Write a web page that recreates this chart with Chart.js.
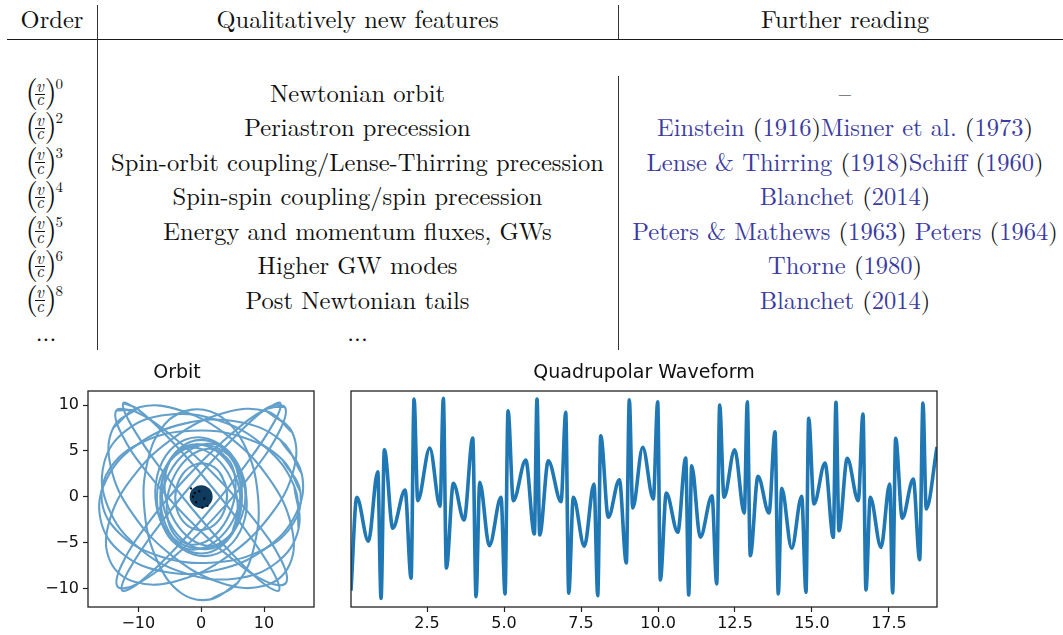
<!DOCTYPE html>
<html><head><meta charset="utf-8">
<script src="https://cdn.jsdelivr.net/npm/chart.js@4.4.1/dist/chart.umd.min.js"></script>
<style>
html,body{margin:0;padding:0;background:#fff;}
#root{position:relative;width:1063px;height:635px;overflow:hidden;color:#111;}
.t{position:absolute;white-space:nowrap;}
.b{color:#3c3ca0;}
.ln{position:absolute;}
canvas{position:absolute;}
</style></head><body><div id="root">
<canvas id="orbit" width="290" height="280" style="left:40px;top:355px;"></canvas>
<canvas id="wave" width="610" height="280" style="left:340px;top:355px;"></canvas>
</div>
<script>
// ---------- table content ----------
const headers = ["Order", "Qualitatively new features", "Further reading"];
const orders = [0, 2, 3, 4, 5, 6, 8];
const features = ["Newtonian orbit", "Periastron precession", "Spin-orbit coupling/Lense-Thirring precession",
  "Spin-spin coupling/spin precession", "Energy and momentum fluxes, GWs", "Higher GW modes", "Post Newtonian tails"];
const readings = ["\u2013", "Einstein (1916)Misner et al. (1973)", "Lense & Thirring (1918)Schiff (1960)",
  "Blanchet (2014)", "Peters & Mathews (1963) Peters (1964)", "Thorne (1980)", "Blanchet (2014)"];

// ---------- waveform (t, h) ----------
const waveform = [
 [0.03,-9.17],[0.218,0.17],[0.594,-4.23],[0.899,2.73],[1.006,-9.93],[1.114,4.93],[1.386,-2.93],[1.786,0.9],
 [1.981,-7.93],[2.078,10.0],[2.198,-0.17],[2.588,5.1],[2.922,-0.73],[3.029,10.07],[3.127,-6.9],[3.354,1.57],
 [3.701,-2.1],[3.984,6.1],[4.091,-9.77],[4.211,1.67],[4.523,-4.67],[4.903,0.17],[5.032,-9.5],[5.13,8.83],
 [5.302,-0.17],[5.705,3.9],[5.984,-3.5],[6.071,10.0],[6.159,-3.6],[6.438,3.83],[6.851,-0.27],[7.003,8.67],
 [7.101,-9.43],[7.25,0.17],[7.607,-4.73],[7.922,1.5],[8.042,-9.67],[8.14,6.33],[8.386,-1.83],[8.744,1.93],
 [8.971,-6.4],[9.068,9.93],[9.179,-0.9],[9.503,5.17],[9.847,0.0],[9.99,9.73],[10.075,-8.1],[10.269,0.6],
 [10.64,-3.33],[10.899,4.1],[10.997,-9.6],[11.094,3.33],[11.373,-3.83],[11.753,0.33],[11.906,-8.5],[12.003,9.4],
 [12.143,0.17],[12.49,4.93],[12.802,-1.43],[12.899,9.73],[12.997,-5.67],[13.247,2.27],[13.604,-1.4],[13.799,6.73],
 [13.906,-9.5],[14.016,1.07],[14.341,-4.93],[14.666,0.27],[14.805,-9.33],[14.893,8.07],[15.065,-0.5],[15.422,3.6],
 [15.692,-3.83],[15.779,9.67],[15.877,-3.17],[16.146,4.07],[16.503,-0.17],[16.656,8.5],[16.753,-9.1],[16.893,0.17],
 [17.24,-4.83],[17.523,1.5],[17.62,-9.4],[17.718,6.07],[17.932,-1.93],[18.289,2.0],[18.497,-6.07],[18.604,9.6],
 [18.711,-1.0],[19.06,5.2]
];

// ---------- orbit loops (x, y) ----------
const loopA = [[13.3,9.8],[10.42,9.59],[4.74,6.81],[-2.2,2.2],[-8.56,-2.99],[-12.62,-7.39],[-13.3,-9.8],[-10.42,-9.59],[-4.74,-6.81],[2.2,-2.2],[8.56,2.99],[12.62,7.39]];
const loopB = [[12.6,10.2],[10.26,9.58],[5.17,6.4],[-1.3,1.5],[-7.43,-3.8],[-11.56,-8.08],[-12.6,-10.2],[-10.26,-9.58],[-5.17,-6.4],[1.3,-1.5],[7.43,3.8],[11.56,8.08]];
const loopC = [[-13.5,9.4],[-10.64,9.34],[-4.93,6.78],[2.1,2.4],[8.57,-2.62],[12.74,-6.94],[13.5,-9.4],[10.64,-9.34],[4.93,-6.78],[-2.1,-2.4],[-8.57,2.62],[-12.74,6.94]];
const loopD = [[-12.4,10.2],[-10.14,9.58],[-5.16,6.4],[1.2,1.5],[7.24,-3.8],[11.34,-8.08],[12.4,-10.2],[10.14,-9.58],[5.16,-6.4],[-1.2,-1.5],[-7.24,3.8],[-11.34,8.08]];
const loopE = [[16,2.5],[12.61,6.17],[5.83,8.18],[-2.5,8.0],[-10.17,5.68],[-15.11,1.83],[-16,-2.5],[-12.61,-6.17],[-5.83,-8.18],[2.5,-8.0],[10.17,-5.68],[15.11,-1.83]];
const loopF = [[15.5,-3.5],[14.82,1.12],[10.17,5.44],[2.8,8.3],[-5.33,8.94],[-12.02,7.18],[-15.5,3.5],[-14.82,-1.12],[-10.17,-5.44],[-2.8,-8.3],[5.33,-8.94],[12.02,-7.18]];
const loopG = [[14.5,7],[10.46,9.31],[3.61,9.13],[-4.2,6.5],[-10.89,2.13],[-14.66,-2.81],[-14.5,-7],[-10.46,-9.31],[-3.61,-9.13],[4.2,-6.5],[10.89,-2.13],[14.66,2.81]];
const loopH = [[-14,7.5],[-9.87,9.75],[-3.1,9.38],[4.5,6.5],[10.9,1.88],[14.37,-3.25],[14,-7.5],[9.87,-9.75],[3.1,-9.38],[-4.5,-6.5],[-10.9,-1.88],[-14.37,3.25]];
const loopI = [[1.5,-11.2],[5.8,-9.4],[8.54,-5.1],[9,0.3],[7.04,5.4],[3.2,8.7],[-1.5,9.5],[-5.8,7.9],[-8.54,3.8],[-9,-1.6],[-7.04,-6.9],[-3.2,-10.5]];
const loopJ = [[15.8,0.5],[12.93,4.03],[6.6,6.49],[-1.5,7.2],[-9.2,5.99],[-14.43,3.17],[-15.8,-0.5],[-12.93,-4.03],[-6.6,-6.49],[1.5,-7.2],[9.2,-5.99],[14.43,-3.17]];
const loopK = [[7,0.8],[5.66,3.49],[2.81,5.25],[-0.8,5.6],[-4.19,4.45],[-6.46,2.11],[-7,-0.8],[-5.66,-3.49],[-2.81,-5.25],[0.8,-5.6],[4.19,-4.45],[6.46,-2.11]];
const loopL = [[6,3.2],[4.0,5.17],[0.92,5.76],[-2.4,4.8],[-5.08,2.56],[-6.4,-0.37],[-6,-3.2],[-4,-5.17],[-0.92,-5.76],[2.4,-4.8],[5.08,-2.56],[6.4,0.37]];
const loopM = [[5.8,-2.8],[6.22,0.08],[4.98,2.93],[2.4,5],[-0.82,5.73],[-3.82,4.92],[-5.8,2.8],[-6.22,-0.08],[-4.98,-2.93],[-2.4,-5],[0.82,-5.73],[3.82,-4.92]];
const loopN = [[6.5,0],[5.63,3.1],[3.25,5.37],[0,6.2],[-3.25,5.37],[-5.63,3.1],[-6.5,0],[-5.63,-3.1],[-3.25,-5.37],[0,-6.2],[3.25,-5.37],[5.63,-3.1]];
const loopO = [[4.6,3.8],[2.48,5.09],[-0.3,5.02],[-3,3.6],[-4.9,1.22],[-5.48,-1.49],[-4.6,-3.8],[-2.48,-5.09],[0.3,-5.02],[3,-3.6],[4.9,-1.22],[5.48,1.49]];
const loopP = [[5,-3.8],[5.83,-1.39],[5.1,1.39],[3,3.8],[0.1,5.19],[-2.83,5.19],[-5,3.8],[-5.83,1.39],[-5.1,-1.39],[-3,-3.8],[-0.1,-5.19],[2.83,-5.19]];
const loopQ = [[7.2,-1.5],[6.84,1.85],[4.64,4.71],[1.2,6.3],[-2.56,6.21],[-5.64,4.45],[-7.2,1.5],[-6.84,-1.85],[-4.64,-4.71],[-1.2,-6.3],[2.56,-6.21],[5.64,-4.45]];
const loopR = [[4,1],[2.96,2.62],[1.13,3.53],[-1,3.5],[-2.87,2.53],[-3.96,0.88],[-4,-1],[-2.96,-2.62],[-1.13,-3.53],[1,-3.5],[2.87,-2.53],[3.96,-0.88]];
const orbitLoops = [loopA, loopB, loopC, loopD, loopE, loopF, loopG, loopH, loopI, loopJ, loopK, loopL, loopM, loopN, loopO, loopP, loopQ, loopR];
const centralBody = [[0, 0]];
const centralSpecks = [[-1.6,0.9],[-1.0,0.4],[-0.3,0.6],[0.5,-0.2],[-0.8,-0.6],[1.0,-1.0],[0.2,-1.2],[-1.3,0.0]];

// ---------- tick labels ----------
const orbitXTicks = [-10, 0, 10];
const orbitYTicks = [-10, -5, 0, 5, 10];
const waveXTicks = [2.5, 5, 7.5, 10, 12.5, 15, 17.5];

// ---------- fonts ----------
const SERIF = "'Latin Modern Roman','CMU Serif','Computer Modern','Liberation Serif',serif";
const mctx = document.createElement('canvas').getContext('2d');
mctx.font = '24px ' + SERIF;
let fsMain = 24 * 493 / mctx.measureText(features[2]).width;
if (!(fsMain > 18 && fsMain < 30)) fsMain = 24;
const root = document.getElementById('root');

// ---------- build table ----------
function put(html, x, base, fs, mode, italic) {
  const d = document.createElement('div');
  d.className = 't';
  d.innerHTML = html;
  d.style.fontFamily = SERIF;
  d.style.fontSize = fs + 'px';
  d.style.lineHeight = fs + 'px';
  d.style.top = (base - 0.84 * fs) + 'px';
  d.style.left = x + 'px';
  if (mode === 'c' || mode === 'm') d.style.transform = 'translateX(-50%)';
  if (italic) d.style.fontStyle = 'italic';
  root.appendChild(d);
  // align baseline precisely using a measured baseline probe
  return d;
}
function line(x, y, w, h, col) {
  const d = document.createElement('div');
  d.className = 'ln';
  Object.assign(d.style, {left: x + 'px', top: y + 'px', width: w + 'px', height: h + 'px', background: col});
  root.appendChild(d);
}
function refHtml(s) {
  if (s === '\u2013') return s;
  return s.split(/([()])/).map(p => (p === '(' || p === ')') ? p : (p ? '<span class="b">' + p.replace(/&/g, '&amp;') + '</span>' : '')).join('');
}
// baseline fix: measure where the baseline lands for this font
function baselineOffset(fs) {
  const box = document.createElement('div');
  box.style.cssText = 'position:absolute;left:-999px;top:0;white-space:nowrap;font-family:' + SERIF + ';font-size:' + fs + 'px;line-height:' + fs + 'px';
  box.innerHTML = 'x<span style="display:inline-block;width:1px;height:0;vertical-align:baseline"></span>';
  document.body.appendChild(box);
  const off = box.lastChild.getBoundingClientRect().top - box.getBoundingClientRect().top;
  box.remove();
  return off;
}
const cacheOff = {};
function putB(html, x, base, fs, mode, italic) {
  if (!(fs in cacheOff)) cacheOff[fs] = baselineOffset(fs);
  const d = put(html, x, base, fs, mode, italic);
  d.style.top = (base - cacheOff[fs]) + 'px';
  return d;
}
const colX = [52, 357.5, 845];
headers.forEach((h, i) => putB(h, colX[i], 28, fsMain, 'c'));
line(7, 38.5, 1056, 1.5, '#1a1a1a');
line(96.5, 5, 1, 345, '#333');
line(617.5, 5, 1, 34, '#333');
line(617.5, 76, 1, 274, '#333');
orders.forEach((n, i) => {
  const base = 102 + i * 34.45;
  const yc = base - 8;
  putB('(', 25.5, yc + 8, 32);
  putB('v', 40, yc - 2.5, 17, 'm', true);
  line(35, yc - 0.5, 10, 1, '#111');
  putB('c', 40, yc + 11, 17, 'm', true);
  putB(')', 44.5, yc + 8, 32);
  putB(String(n), 55.5, yc - 5, 15);
  putB(features[i], colX[1], base, fsMain, 'c');
  putB(refHtml(readings[i]), colX[2], base, fsMain, 'c');
});
putB('...', 46, 341, fsMain, 'c');
putB('...', 357.5, 341, fsMain, 'c');

// ---------- charts ----------
const boxPlugin = {id: 'box', afterDraw(chart) {
  const {ctx, chartArea: a} = chart;
  ctx.save(); ctx.strokeStyle = '#222'; ctx.lineWidth = 1.3;
  ctx.strokeRect(a.left, a.top, a.right - a.left, a.bottom - a.top);
  ctx.restore();
}};
const tickFont = {family: 'DejaVu Sans', size: 16};
const titleCfg = t => ({display: true, text: t, color: '#111', font: {family: 'DejaVu Sans', size: 19, weight: 'normal'}, padding: {top: 7, bottom: 6.2}});
const gridCfg = {drawOnChartArea: false, drawTicks: true, tickLength: 5, tickColor: '#222', tickWidth: 1.2};
const minus = v => (v < 0 ? '\u2212' : '') + Math.abs(v);

const orbitDatasets = [{
  data: centralBody.map(p => ({x: p[0], y: p[1]})), showLine: false, pointRadius: 11.5, pointBackgroundColor: '#0e3b5e', pointBorderWidth: 0, order: 0
}, {
  data: centralSpecks.map(p => ({x: p[0], y: p[1]})), showLine: false, pointRadius: 1.4, pointStyle: 'rect', pointBackgroundColor: '#000', pointBorderWidth: 0, order: -1
}].concat(orbitLoops.map(L => ({
  data: L.concat([L[0], L[1]]).map(p => ({x: p[0], y: p[1]})),
  showLine: true, pointRadius: 0, borderColor: '#62a0cb', borderWidth: 2.1, tension: 0.4, fill: false, order: 1
})));

new Chart(document.getElementById('orbit'), {
  type: 'scatter',
  data: {datasets: orbitDatasets},
  options: {
    responsive: false, animation: false, devicePixelRatio: 1,
    layout: {padding: {left: 0, right: 16, top: 0, bottom: 0}},
    plugins: {legend: {display: false}, tooltip: {enabled: false}, title: titleCfg('Orbit')},
    scales: {
      x: {type: 'linear', min: -18, max: 17.95,
        afterBuildTicks: s => { s.ticks = orbitXTicks.map(v => ({value: v})); },
        afterFit: s => { s.height = 28; },
        ticks: {callback: minus, font: tickFont, color: '#111', padding: 2, maxRotation: 0, autoSkip: false},
        grid: gridCfg, border: {display: false}},
      y: {type: 'linear', min: -12.03, max: 11.53,
        afterBuildTicks: s => { s.ticks = orbitYTicks.map(v => ({value: v})); },
        afterFit: s => { s.width = 48; },
        ticks: {callback: minus, font: tickFont, color: '#111', padding: 4, autoSkip: false},
        grid: gridCfg, border: {display: false}}
    }
  },
  plugins: [boxPlugin]
});

new Chart(document.getElementById('wave'), {
  type: 'line',
  data: {datasets: [{
    data: waveform.map(p => ({x: p[0], y: p[1]})),
    borderColor: '#1f77b4', borderWidth: 3.6, pointRadius: 0, cubicInterpolationMode: 'monotone',
    borderJoinStyle: 'round', fill: false
  }]},
  options: {
    responsive: false, animation: false, devicePixelRatio: 1,
    layout: {padding: {left: 11, right: 13, top: 0, bottom: 0}},
    plugins: {legend: {display: false}, tooltip: {enabled: false}, title: titleCfg('Quadrupolar Waveform')},
    scales: {
      x: {type: 'linear', min: 0.03, max: 19.06,
        afterBuildTicks: s => { s.ticks = waveXTicks.map(v => ({value: v})); },
        afterFit: s => { s.height = 28; },
        ticks: {callback: v => v.toFixed(1), font: tickFont, color: '#111', padding: 2, maxRotation: 0, autoSkip: false},
        grid: gridCfg, border: {display: false}},
      y: {type: 'linear', min: -10.8, max: 10.8, display: false}
    }
  },
  plugins: [boxPlugin]
});
</script>
</body></html>
